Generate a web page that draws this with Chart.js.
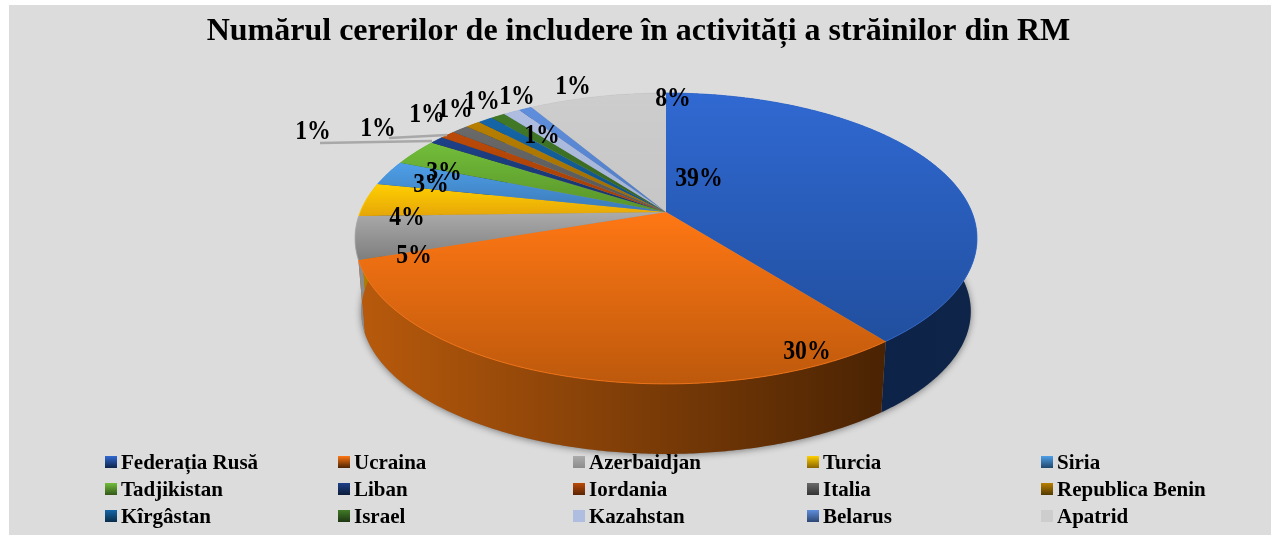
<!DOCTYPE html>
<html>
<head>
<meta charset="utf-8">
<title>Numărul cererilor</title>
<script src="https://cdn.jsdelivr.net/npm/chart.js@4"></script>
<style>
  html, body { margin: 0; padding: 0; background: #fff; }
  #wrap { position: relative; width: 1271px; height: 535px; overflow: hidden; }
  #chart { position: absolute; left: 0; top: 0; }
  #legend { position: absolute; left: 0; top: 0; font: bold 21px "Liberation Serif", serif; color: #000; }
  #legend .item { position: absolute; white-space: nowrap; line-height: 22px; }
  #legend .box { position: absolute; left: 0; top: 5px; width: 12px; height: 12px; }
  #legend .txt { position: absolute; left: 16px; top: 0; }
</style>
</head>
<body>
<div id="wrap">
  <canvas id="chart" width="1271" height="535"></canvas>
  <div id="legend"></div>
</div>
<script>
const titleText = 'Numărul cererilor de includere în activități a străinilor din RM';
const categories = ['Federația Rusă', 'Ucraina', 'Azerbaidjan', 'Turcia', 'Siria', 'Tadjikistan', 'Liban', 'Iordania', 'Italia', 'Republica Benin', 'Kîrgâstan', 'Israel', 'Kazahstan', 'Belarus', 'Apatrid'];
const shares = [39.45, 30.35, 4.75, 3.75, 2.8, 3.0, 0.86, 0.94, 1.05, 0.92, 0.92, 0.89, 1.03, 0.8, 8.49];

const topColors = ['#3069d2', '#ff7714', '#ababab', '#ffcf00', '#4e9fe8', '#72bd3a', '#1d4088', '#bb4a08', '#6a6a6a', '#b87f00', '#1566a8', '#427a27', '#aebde0', '#5f8edc', '#cdcdcd'];
const bottomColors = ['#214f9f', '#bd590c', '#7e7e7e', '#e6a608', '#3b7ab8', '#589429', '#183468', '#a23e06', '#555555', '#9a6a00', '#11507f', '#35621f', '#a3b3d6', '#4f7cc6', '#c6c6c6'];
const wallLeft = ['#0a1f45', '#b85a0c', '#8c8c8c', '#b88600', '#2b5f90', '#447422', '#12284f', '#7a3004', '#444444', '#6f4c00', '#0c3d64', '#27491a', '#7d8aa8', '#3c5f9a', '#999999'];
const wallRight = ['#0f2449', '#4a2303', '#8c8c8c', '#8a6500', '#1f476c', '#335719', '#0d1d3a', '#5a2303', '#333333', '#533900', '#092d4a', '#1d3613', '#5d6880', '#2d4774', '#777777'];

// perspective disc: the slice apex sits above the middle of the drawn ellipse
const disc = { x: 666, y: 212, a: 305.8, b: 140.6, k: 0.182, wallY: 285.5, wallScale: 0.98 };

const labelSpots = [[699, 179], [807, 352], [414, 256], [407, 218], [431, 185], [444, 173], [313, 132], [378, 129], [427, 115], [455, 110], [482, 102], [517, 97], [542, 136], [573, 87], [673, 99]];
const leaderLines = [[[320, 143], [432, 141]], [[389, 138], [447, 135]]];

function project(theta, onWall) {
  const u = Math.sin(theta);
  const v = -Math.cos(theta);
  const w = 1 - disc.k * v;
  const s = onWall ? disc.wallScale : 1;
  return {
    x: disc.x + s * disc.a * u / w,
    y: (onWall ? disc.wallY : disc.y) + s * disc.b * v / w,
  };
}

function edgePoints(start, end, onWall) {
  const steps = Math.max(2, Math.ceil((end - start) / 0.01));
  const pts = [];
  for (let i = 0; i <= steps; i++) {
    pts.push(project(start + (end - start) * i / steps, onWall));
  }
  return pts;
}

function tracePoints(ctx, pts) {
  pts.forEach((p, i) => (i ? ctx.lineTo(p.x, p.y) : ctx.moveTo(p.x, p.y)));
}

const pie3d = {
  id: 'pie3d',
  beforeDraw(chart) {
    const { ctx } = chart;
    ctx.save();
    ctx.fillStyle = '#dcdcdc';
    ctx.fillRect(9, 5, chart.width - 9, chart.height - 5);
    ctx.restore();
  },
  // the arc elements give the angles, the drawing only swaps the circle for the tilted disc
  beforeDatasetDraw(chart) {
    const { ctx } = chart;
    const arcs = chart.getDatasetMeta(0).data;
    const slices = arcs.map((arc) => ({
      start: arc.startAngle + Math.PI / 2,
      end: arc.endAngle + Math.PI / 2,
    }));

    // soft shadow under the whole body
    ctx.save();
    ctx.shadowColor = 'rgba(0,0,0,0.45)';
    ctx.shadowBlur = 7;
    ctx.shadowOffsetY = 1;
    ctx.fillStyle = '#8c8c8c';
    ctx.beginPath();
    tracePoints(ctx, edgePoints(0, Math.PI * 2, true));
    ctx.closePath();
    ctx.fill();
    ctx.restore();

    // side wall
    slices.forEach((slice, i) => {
      const top = edgePoints(slice.start, slice.end, false);
      const low = edgePoints(slice.start, slice.end, true);
      const xs = top.concat(low).map((p) => p.x);
      const grad = ctx.createLinearGradient(Math.min(...xs), 0, Math.max(...xs), 0);
      grad.addColorStop(0, wallLeft[i]);
      grad.addColorStop(1, wallRight[i]);
      ctx.fillStyle = grad;
      ctx.beginPath();
      tracePoints(ctx, top);
      low.reverse().forEach((p) => ctx.lineTo(p.x, p.y));
      ctx.closePath();
      ctx.fill();
    });

    // top faces
    slices.forEach((slice, i) => {
      const rim = edgePoints(slice.start, slice.end, false);
      const ys = rim.map((p) => p.y).concat(disc.y);
      const grad = ctx.createLinearGradient(0, Math.min(...ys), 0, Math.max(...ys));
      grad.addColorStop(0, topColors[i]);
      grad.addColorStop(1, bottomColors[i]);
      ctx.fillStyle = grad;
      ctx.beginPath();
      ctx.moveTo(disc.x, disc.y);
      rim.forEach((p) => ctx.lineTo(p.x, p.y));
      ctx.closePath();
      ctx.fill();
      // light rim along the front edge
      ctx.strokeStyle = topColors[i];
      ctx.globalAlpha = 0.8;
      ctx.lineWidth = 1;
      ctx.beginPath();
      tracePoints(ctx, rim);
      ctx.stroke();
      ctx.globalAlpha = 1;
    });
    return false;
  },
  afterDatasetsDraw(chart) {
    const { ctx } = chart;
    ctx.save();
    ctx.strokeStyle = '#a8a8a8';
    ctx.lineWidth = 2.5;
    leaderLines.forEach((line) => {
      ctx.beginPath();
      tracePoints(ctx, line.map(([x, y]) => ({ x, y })));
      ctx.stroke();
    });

    const total = shares.reduce((sum, v) => sum + v, 0);
    ctx.fillStyle = '#000';
    ctx.font = 'bold 27px "Liberation Serif", serif';
    ctx.textAlign = 'center';
    ctx.textBaseline = 'middle';
    shares.forEach((value, i) => {
      const [x, y] = labelSpots[i];
      // the percent labels are narrow and tall in the original
      ctx.save();
      ctx.translate(x, y);
      ctx.scale(0.88, 1);
      ctx.fillText(Math.round(value / total * 100) + '%', 0, 0);
      ctx.restore();
    });
    ctx.restore();
  },
};

const chart = new Chart(document.getElementById('chart'), {
  type: 'pie',
  data: {
    labels: categories,
    datasets: [{ data: shares, backgroundColor: topColors, borderWidth: 0 }],
  },
  options: {
    responsive: false,
    animation: false,
    layout: { padding: { left: 6 } },
    plugins: {
      legend: { display: false },
      tooltip: { enabled: false },
      title: {
        display: true,
        text: titleText,
        color: '#000',
        font: { family: '"Liberation Serif", serif', size: 32, weight: 'bold' },
        padding: { top: 13, bottom: 8 },
      },
    },
  },
  plugins: [pie3d],
});

// legend as a 5 x 3 grid, same items the library would have listed
const legendCols = [105, 338, 573, 807, 1041];
const legendRows = [451, 478, 505];
const legendEl = document.getElementById('legend');
chart.options.plugins.legend.labels.generateLabels(chart).forEach((item, i) => {
  const el = document.createElement('div');
  el.className = 'item';
  el.style.left = legendCols[i % 5] + 'px';
  el.style.top = legendRows[Math.floor(i / 5)] + 'px';
  const box = document.createElement('span');
  box.className = 'box';
  box.style.background = i === 12 || i === 14
    ? topColors[i]
    : `linear-gradient(${topColors[i]}, ${wallRight[i]})`;
  const txt = document.createElement('span');
  txt.className = 'txt';
  txt.textContent = item.text;
  el.append(box, txt);
  legendEl.append(el);
});
</script>
</body>
</html>
